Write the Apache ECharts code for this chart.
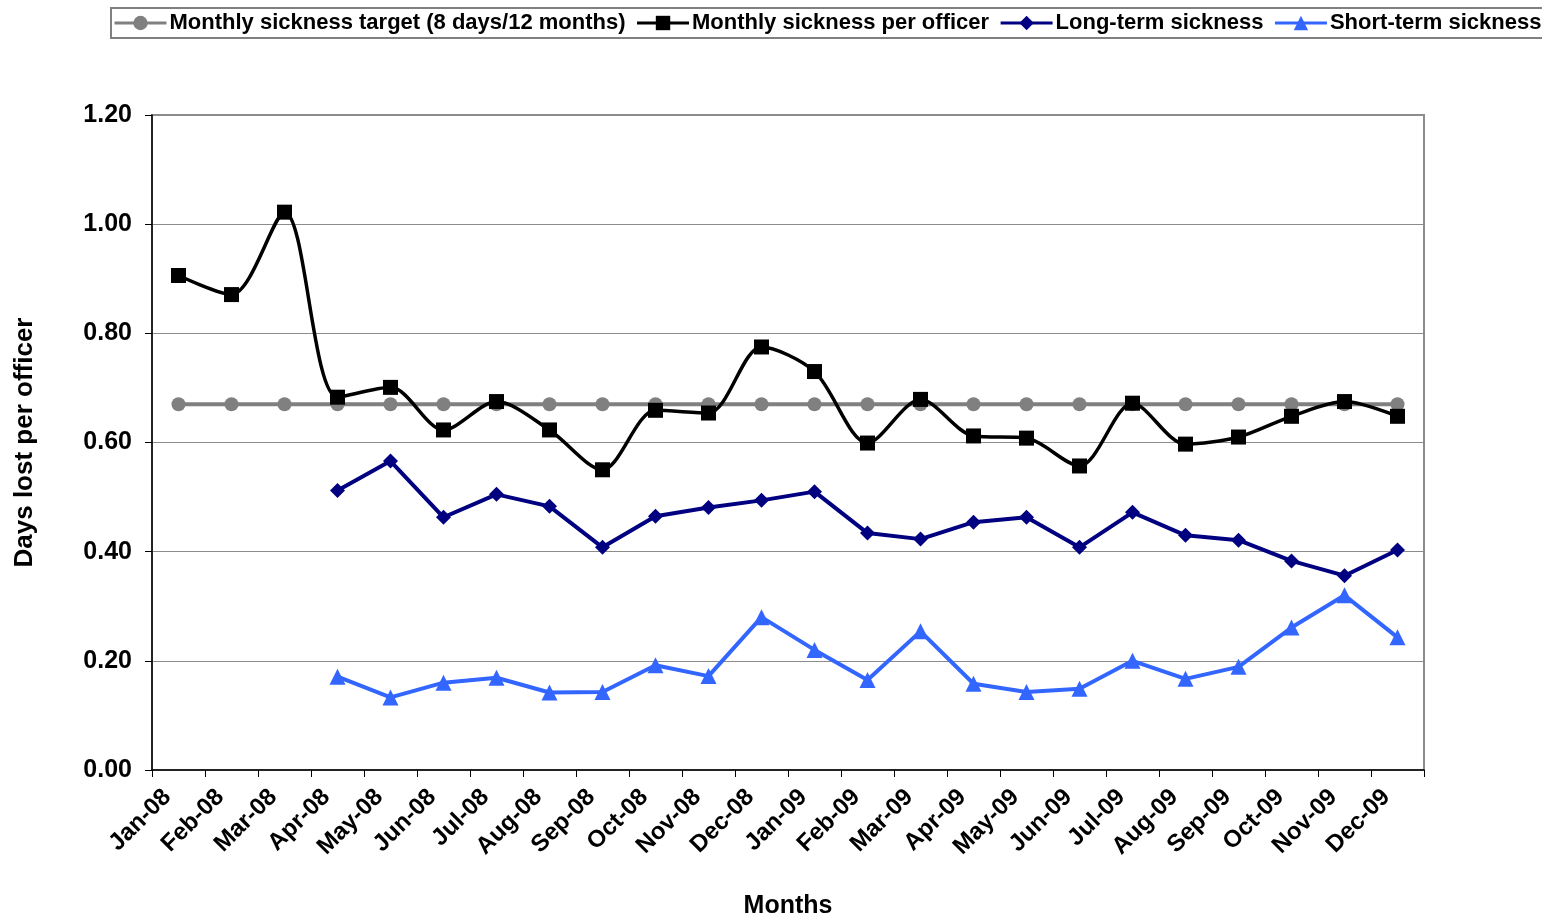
<!DOCTYPE html>
<html>
<head>
<meta charset="utf-8">
<script src="https://cdn.jsdelivr.net/npm/echarts@6/dist/echarts.min.js"></script>
<style>
  html, body { margin: 0; padding: 0; background: #fff; }
  #chart { width: 1542px; height: 924px; }
</style>
</head>
<body>
<div id="chart"></div>
<script>
const months = [
  "Jan-08", "Feb-08", "Mar-08", "Apr-08", "May-08", "Jun-08",
  "Jul-08", "Aug-08", "Sep-08", "Oct-08", "Nov-08", "Dec-08",
  "Jan-09", "Feb-09", "Mar-09", "Apr-09", "May-09", "Jun-09",
  "Jul-09", "Aug-09", "Sep-09", "Oct-09", "Nov-09", "Dec-09"
];
const target = [
  0.67, 0.67, 0.67, 0.67, 0.67, 0.67, 0.67, 0.67, 0.67, 0.67, 0.67, 0.67,
  0.67, 0.67, 0.67, 0.67, 0.67, 0.67, 0.67, 0.67, 0.67, 0.67, 0.67, 0.67
];
const perOfficer = [
  0.906, 0.871, 1.022, 0.683, 0.701, 0.623, 0.675, 0.623, 0.550, 0.659, 0.654, 0.775,
  0.730, 0.599, 0.679, 0.612, 0.608, 0.557, 0.672, 0.597, 0.610, 0.648, 0.675, 0.648
];
const longTerm = [
  null, null, null, 0.512, 0.566, 0.463, 0.505, 0.483, 0.408, 0.465, 0.481, 0.494,
  0.510, 0.434, 0.423, 0.454, 0.463, 0.408, 0.472, 0.430, 0.421, 0.383, 0.356, 0.403
];
const shortTerm = [
  null, null, null, 0.171, 0.133, 0.160, 0.169, 0.142, 0.143, 0.192, 0.172, 0.280,
  0.220, 0.165, 0.254, 0.158, 0.143, 0.149, 0.200, 0.167, 0.189, 0.261, 0.320, 0.243
];

const font = "'Liberation Sans', Arial, sans-serif";
const chart = echarts.init(document.getElementById("chart"));

chart.setOption({
  backgroundColor: "#fff",
  animation: false,
  textStyle: { fontFamily: font },
  legend: {
    left: 111,
    top: 8,
    width: 1520,
    padding: [4, 2, 4, 2],
    borderColor: "#808080",
    borderWidth: 2,
    itemWidth: 52,
    itemHeight: 18,
    itemGap: 10,
    lineStyle: { width: 3 },
    textStyle: { fontFamily: font, fontWeight: "bold", fontSize: 22, color: "#000", padding: [0, 0, 0, -2] }
  },
  grid: {
    left: 152, right: 118, top: 115, bottom: 148,
    show: true, borderColor: "#8c8c8c", borderWidth: 2
  },
  xAxis: {
    type: "category",
    data: months,
    boundaryGap: true,
    name: "Months",
    nameLocation: "middle",
    nameGap: 124,
    nameTextStyle: { fontFamily: font, fontWeight: "bold", fontSize: 25, color: "#000" },
    axisLine: { lineStyle: { color: "#000", width: 1.5 } },
    axisTick: { show: true, length: 7, lineStyle: { color: "#000" } },
    axisLabel: {
      interval: 0, rotate: 45, margin: 12,
      padding: [0, 16, 0, 0],
      fontFamily: font, fontWeight: "bold", fontSize: 24, color: "#000"
    },
    splitLine: { show: false }
  },
  yAxis: {
    type: "value",
    min: 0, max: 1.2, interval: 0.2,
    name: "Days lost per officer",
    nameLocation: "middle",
    nameGap: 114,
    nameTextStyle: { fontFamily: font, fontWeight: "bold", fontSize: 26, color: "#000" },
    axisLine: { show: true, lineStyle: { color: "#000", width: 1.5 } },
    axisTick: { show: true, length: 7, lineStyle: { color: "#000" } },
    axisLabel: {
      margin: 20, fontFamily: font, fontWeight: "bold", fontSize: 25, color: "#000",
      formatter: (v) => v.toFixed(2)
    },
    splitLine: { lineStyle: { color: "#8c8c8c", width: 1 } }
  },
  series: [
    {
      name: "Monthly sickness target (8 days/12 months)",
      type: "line",
      data: target,
      symbol: "circle",
      symbolSize: 14,
      color: "#808080",
      lineStyle: { width: 4, color: "#808080" },
      itemStyle: { color: "#808080" }
    },
    {
      name: "Monthly sickness per officer",
      type: "line",
      data: perOfficer,
      smooth: 0.3,
      symbol: "rect",
      symbolSize: 15,
      color: "#000",
      lineStyle: { width: 3.5, color: "#000" },
      itemStyle: { color: "#000" }
    },
    {
      name: "Long-term sickness",
      type: "line",
      data: longTerm,
      symbol: "diamond",
      symbolSize: 15,
      color: "#000080",
      lineStyle: { width: 4, color: "#000080" },
      itemStyle: { color: "#000080" }
    },
    {
      name: "Short-term sickness",
      type: "line",
      data: shortTerm,
      symbol: "triangle",
      symbolSize: 16,
      color: "#3366ff",
      lineStyle: { width: 4, color: "#3366ff" },
      itemStyle: { color: "#3366ff" }
    }
  ]
});
</script>
</body>
</html>
